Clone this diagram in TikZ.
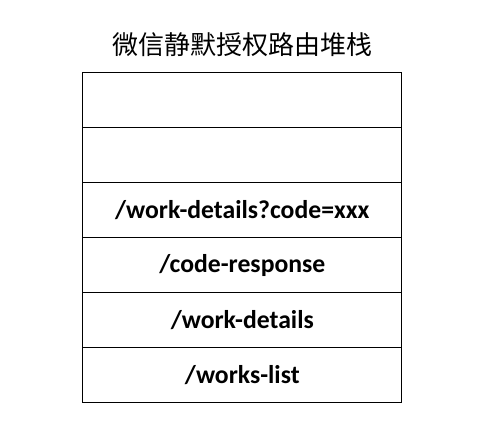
\documentclass[tikz,border=0pt]{standalone}
\usepackage{fontspec}
\setmainfont{Carlito}
\newfontfamily\cjk{Noto Sans CJK SC}
\begin{document}
\begin{tikzpicture}[x=1pt,y=-1pt,
  cell/.style={draw=black, line width=1pt, minimum width=319pt, minimum height=55pt, inner sep=0pt, font=\fontsize{25.7}{30}\selectfont\bfseries, anchor=north west},
  titletext/.style={font=\cjk\fontsize{26}{30}\selectfont}]
\useasboundingbox (0,0) rectangle (481,431);
\node[titletext] (title) at (242.5,44.5) {微信静默授权路由堆栈};
\node[cell] (r1) at (82.3,72.3) {};
\node[cell] (r2) at (82.3,127.3) {};
\node[cell] (r3) at (82.3,182.3) {/work-details?code=xxx};
\node[cell] (r4) at (82.3,237.3) {/code-response};
\node[cell] (r5) at (82.3,292.3) {/work-details};
\node[cell] (r6) at (82.3,347.3) {/works-list};
\end{tikzpicture}
\end{document}
